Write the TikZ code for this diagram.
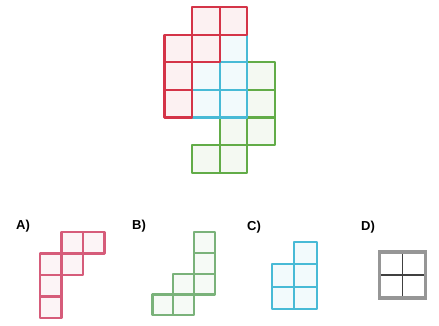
\documentclass[tikz,border=0pt]{standalone}
\usepackage{fontspec}
\setmainfont{Liberation Sans}
\definecolor{tilered}{RGB}{212,52,72}
\definecolor{tilepink}{RGB}{214,92,122}
\definecolor{tilegreen}{RGB}{98,172,72}
\definecolor{tilesage}{RGB}{122,178,122}
\definecolor{tileblue}{RGB}{72,186,214}
\definecolor{tilegray}{RGB}{150,150,150}

\tikzset{
  cell/.style={line width=2.2pt, line join=round, line cap=round},
  lbl/.style={font=\fontsize{13}{15}\selectfont\bfseries, anchor=west, inner sep=0pt},
}
% #1 colour, #2 cell size, #3/#4 top left corner, #5 cells col/row
\newcommand{\piecefill}[5]{%
  \foreach \c/\r in {#5} \fill[#1!7] ({#3+\c*#2},{#4+\r*#2}) rectangle ++(#2,#2);}
\newcommand{\piecedraw}[5]{%
  \foreach \c/\r in {#5} \draw[cell,#1] ({#3+\c*#2},{#4+\r*#2}) rectangle ++(#2,#2);}

\begin{document}
\begin{tikzpicture}[x=1pt,y=-1pt]
\useasboundingbox (0,0) rectangle (439,325);

% main figure
\piecefill{tilegreen}{27.6}{164.5}{7}{3/2,3/3,3/4,2/4,2/5,1/5}
\piecefill{tileblue}{27.6}{164.5}{7}{2/1,1/2,2/2,1/3,2/3}
\piecefill{tilered}{27.6}{164.5}{7}{1/0,2/0,0/1,1/1,0/2,0/3}
\piecedraw{tilegreen}{27.6}{164.5}{7}{3/2,3/3,3/4,2/4,2/5,1/5}
\piecedraw{tileblue}{27.6}{164.5}{7}{2/1,1/2,2/2,1/3,2/3}
\piecedraw{tilered}{27.6}{164.5}{7}{1/0,2/0,0/1,1/1,0/2,0/3}

% answers
\node[lbl] (la) at (16,226) {A)};
\node[lbl] (lb) at (132,226) {B)};
\node[lbl] (lc) at (247,227) {C)};
\node[lbl] (ld) at (361,227) {D)};

\piecefill{tilepink}{21.5}{40}{232}{1/0,2/0,0/1,1/1,0/2,0/3}
\piecedraw{tilepink}{21.5}{40}{232}{1/0,2/0,0/1,1/1,0/2,0/3}

\piecefill{tilesage}{20.8}{152.5}{232}{2/0,2/1,2/2,1/2,1/3,0/3}
\piecedraw{tilesage}{20.8}{152.5}{232}{2/0,2/1,2/2,1/2,1/3,0/3}

\piecefill{tileblue}{22.3}{272}{242}{1/0,0/1,1/1,0/2,1/2}
\piecedraw{tileblue}{22.3}{272}{242}{1/0,0/1,1/1,0/2,1/2}

\draw[line width=1.5pt, black!75] (402.5,252) -- (402.5,298) (379.5,275) -- (425.5,275);
\draw[line width=3.2pt, tilegray] (379.5,252) rectangle (425.5,298);
\end{tikzpicture}
\end{document}
